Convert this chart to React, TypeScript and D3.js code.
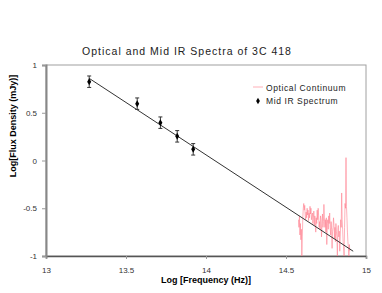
import React, { useEffect, useRef } from 'react';
import * as d3 from 'd3';

// Mid IR photometry (log frequency, log flux, error)
const irFreq = [13.27, 13.57, 13.715, 13.82, 13.92];
const irFlux = [0.825, 0.595, 0.396, 0.253, 0.117];
const irErr = [0.06, 0.06, 0.06, 0.06, 0.06];

// power-law fit line endpoints
const fitFreq = [13.27, 14.92];
const fitFlux = [0.86, -0.95];

// Optical continuum
const optStart = 14.578;
const optStep = 0.003;
const optFlux = [
  -0.62, -0.7, -0.58, -0.78, -0.66, -0.83, -0.72, -1.0, -0.8, -0.6,
  -0.5, -0.45, -0.52, -0.47, -0.58, -0.62, -0.54, -0.6, -0.5, -0.57,
  -0.52, -0.63, -0.55, -0.6, -0.48, -0.56, -0.5, -0.62, -0.58, -0.55,
  -0.66, -0.6, -0.53, -0.68, -0.58, -0.62, -0.75, -0.6, -0.66, -0.52,
  -0.62, -0.5, -0.58, -0.7, -0.64, -0.72, -0.58, -0.62, -0.8, -0.66,
  -0.56, -0.7, -0.64, -0.46, -0.6, -0.7, -0.62, -0.75, -0.6, -0.88,
  -0.66, -0.62, -0.72, -0.58, -0.66, -0.55, -0.7, -0.78, -0.64, -0.72,
  -0.92, -0.74, -0.7, -0.6, -0.68, -0.82, -0.7, -0.85, -0.66, -0.74,
  -0.8, -1.0, -0.72, -0.68, -0.8, -0.74, -0.95, -0.8, -0.62, -0.7,
  -0.34, -0.62, -0.72, -0.85, -0.9, -1.0, -0.7, -0.45, -0.5, 0.03,
  -0.48, -0.6, -0.75, -0.85, -0.92, -1.0, -0.88, -0.95,
];

const xTicks = [13, 13.5, 14, 14.5, 15];
const yTicks = [-1, -0.5, 0, 0.5, 1];

export default function App() {
  const ref = useRef<SVGSVGElement>(null);

  useEffect(() => {
    if (!ref.current) return;
    const svg = d3.select(ref.current);
    svg.selectAll('*').remove();

    const left = 46, right = 366, top = 65, bottom = 256;
    const x = d3.scaleLinear().domain([13, 15]).range([left, right]);
    const y = d3.scaleLinear().domain([-1, 1]).range([bottom, top]);
    const font = 'Liberation Sans, Arial, sans-serif';

    // frame
    svg.append('rect')
      .attr('x', left).attr('y', top)
      .attr('width', right - left).attr('height', bottom - top)
      .attr('fill', 'none').attr('stroke', '#a0a0a0').attr('stroke-width', 1);

    // title
    svg.append('text')
      .attr('x', 187).attr('y', 55)
      .attr('text-anchor', 'middle')
      .style('font-family', font).style('font-size', '10.5px')
      .style('letter-spacing', '1px').attr('fill', '#222')
      .text('Optical and Mid IR Spectra of 3C 418');

    // axes
    const xAxis = svg.append('g')
      .attr('transform', `translate(0,${bottom})`)
      .call(d3.axisBottom(x).tickValues(xTicks).tickSize(3).tickPadding(8).tickFormat(d => String(d)));
    xAxis.select('.domain').attr('stroke', '#555').attr('stroke-width', 1.5);
    xAxis.selectAll('.tick line').attr('stroke', '#999');

    const yAxis = svg.append('g')
      .attr('transform', `translate(${left},0)`)
      .call(d3.axisLeft(y).tickValues(yTicks).tickSize(4).tickPadding(5).tickFormat(d => String(d)));
    yAxis.select('.domain').attr('stroke', '#888').attr('stroke-width', 2);
    yAxis.selectAll('.tick line').attr('stroke', '#999');

    svg.selectAll('.tick text')
      .style('font-family', font).style('font-size', '8px').attr('fill', '#333');

    // axis titles
    svg.append('text')
      .attr('x', 206).attr('y', 283).attr('text-anchor', 'middle')
      .style('font-family', font).style('font-size', '9px').style('font-weight', 'bold')
      .text('Log [Frequency (Hz)]');
    svg.append('text')
      .attr('transform', 'translate(16,126) rotate(-90)').attr('text-anchor', 'middle')
      .style('font-family', font).style('font-size', '9px').style('font-weight', 'bold')
      .text('Log[Flux Density (mJy)]');

    // optical spectrum
    const line = d3.line<number>()
      .x((_, i) => x(optStart + i * optStep))
      .y(d => y(d));
    svg.append('path')
      .datum(optFlux)
      .attr('d', line)
      .attr('fill', 'none').attr('stroke', '#ff7f8e').attr('stroke-width', 0.6);

    // fit line
    svg.append('line')
      .attr('x1', x(fitFreq[0])).attr('y1', y(fitFlux[0]))
      .attr('x2', x(fitFreq[1])).attr('y2', y(fitFlux[1]))
      .attr('stroke', '#333').attr('stroke-width', 1);

    // error bars + diamonds
    const pts = irFreq.map((f, i) => ({ f, v: irFlux[i], e: irErr[i] }));
    const g = svg.append('g');
    pts.forEach(p => {
      const cx = x(p.f);
      g.append('line').attr('x1', cx).attr('x2', cx)
        .attr('y1', y(p.v - p.e)).attr('y2', y(p.v + p.e))
        .attr('stroke', '#333').attr('stroke-width', 1);
      [p.v - p.e, p.v + p.e].forEach(v => {
        g.append('line').attr('x1', cx - 2).attr('x2', cx + 2)
          .attr('y1', y(v)).attr('y2', y(v))
          .attr('stroke', '#333').attr('stroke-width', 1);
      });
      g.append('path')
        .attr('d', d3.symbol(d3.symbolDiamond, 14)())
        .attr('transform', `translate(${cx},${y(p.v)})`)
        .attr('fill', '#000');
    });

    // legend
    const lg = svg.append('g').attr('transform', 'translate(253,0)');
    lg.append('line').attr('x1', 0).attr('x2', 10).attr('y1', 87).attr('y2', 87)
      .attr('stroke', '#ffb0b8').attr('stroke-width', 1);
    lg.append('text').attr('x', 13).attr('y', 91)
      .style('font-family', font).style('font-size', '8.5px').style('letter-spacing', '0.6px')
      .attr('fill', '#222').text('Optical Continuum');
    lg.append('path').attr('d', d3.symbol(d3.symbolDiamond, 12)())
      .attr('transform', 'translate(5,101)').attr('fill', '#000');
    lg.append('text').attr('x', 13).attr('y', 104)
      .style('font-family', font).style('font-size', '8.5px').style('letter-spacing', '0.6px')
      .attr('fill', '#222').text('Mid IR Spectrum');
  }, []);

  return (
    <svg ref={ref} width={382} height={293}
      style={{ position: 'absolute', left: 0, top: 0, background: '#fff' }} />
  );
}
